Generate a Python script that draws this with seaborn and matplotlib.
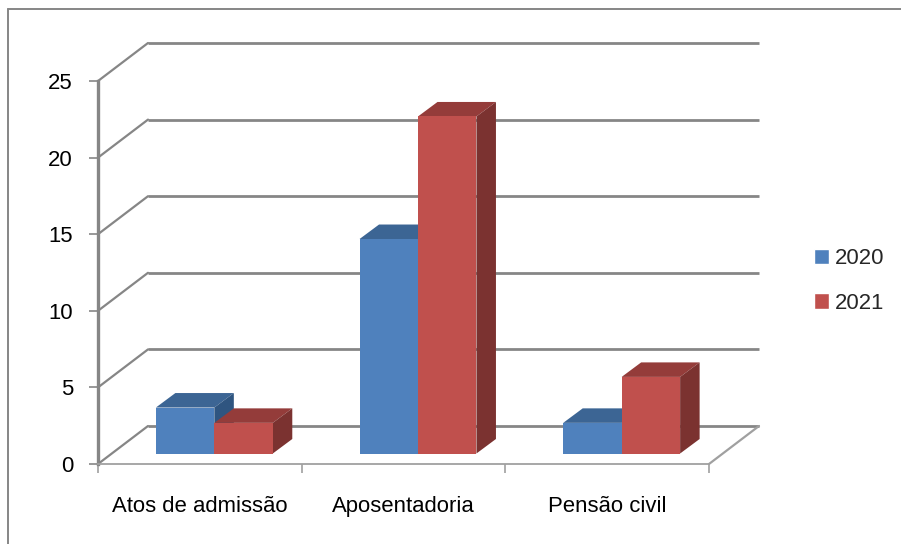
import matplotlib
matplotlib.use("Agg")
import matplotlib.pyplot as plt
from matplotlib.lines import Line2D
from matplotlib.patches import Polygon
from matplotlib.transforms import Affine2D
import pandas as pd
import seaborn as sns

categories = ["Atos de admissão", "Aposentadoria", "Pensão civil"]
values_2020 = [3, 14, 2]
values_2021 = [2, 22, 5]
y_ticks = [0, 5, 10, 15, 20, 25]

W, H, DPI = 901, 544, 100
BLUE, RED = "#4F81BD", "#C0504D"
BLUE_TOP, RED_TOP = "#3C6594", "#943C3A"
BLUE_SIDE, RED_SIDE = "#2F5580", "#7B3230"
GRID = "#868686"
AX_L, AX_R, AX_T, AX_B = 98, 709, 81, 464

sns.set_theme(style="white")
plt.rcParams["font.family"] = ["Liberation Sans", "DejaVu Sans"]
FS = 15.9

fig = plt.figure(figsize=(W / DPI, H / DPI), dpi=DPI, facecolor="white")
ax = fig.add_axes([AX_L / W, 1 - AX_B / H, (AX_R - AX_L) / W, (AX_B - AX_T) / H])

df = pd.DataFrame({
    "categoria": categories * 2,
    "ano": ["2020"] * len(categories) + ["2021"] * len(categories),
    "valor": values_2020 + values_2021,
})
sns.barplot(data=df, x="categoria", y="valor", hue="ano", palette=[BLUE, RED],
            width=0.574, gap=0, saturation=1, errorbar=None, ax=ax, zorder=5)
ax.set_xlim(-0.5, 2.5)
ax.set_ylim(0, 25)

px_x = (AX_R - AX_L) / 3
px_y = (AX_B - AX_T) / 25

# back wall and side wall (3-D look), offsets in pixels
BACK_DX, BACK_DY = 50, 38
for v in y_ticks:
    ax.plot([-0.5 + BACK_DX / px_x, 2.5 + BACK_DX / px_x],
            [v + BACK_DY / px_y] * 2, color=GRID, lw=2.0, clip_on=False, zorder=1,
            solid_capstyle="butt")
    ax.plot([-0.5, -0.5 + BACK_DX / px_x], [v, v + BACK_DY / px_y], color=GRID, lw=1.6,
            clip_on=False, zorder=1)
ax.plot([2.5, 2.5 + BACK_DX / px_x], [0, BACK_DY / px_y], color="#A0A0A0", lw=1.6,
        clip_on=False, zorder=1)

# bars stand in the middle of the floor: shift, then add side and top faces
SHIFT_X, SHIFT_Y = 14.5, 10.5
DEPTH_X, DEPTH_Y = 19.5, 14.5
shift = Affine2D().translate(SHIFT_X, SHIFT_Y)
faces = {0: (BLUE_TOP, BLUE_SIDE, 3), 1: (RED_TOP, RED_SIDE, 4)}
for idx, container in enumerate(ax.containers):
    top_c, side_c, z = faces[idx]
    for bar in container:
        bar.set_transform(ax.transData + shift)
        bar.set_clip_on(False)
        bar.set_linewidth(0)
        bar.set_zorder(z + 0.5)
        x0, x1 = bar.get_x(), bar.get_x() + bar.get_width()
        h = bar.get_height()
        dx, dy = DEPTH_X / px_x, DEPTH_Y / px_y
        top = Polygon([(x0, h), (x1, h), (x1 + dx, h + dy), (x0 + dx, h + dy)],
                      closed=True, fc=top_c, ec="none", zorder=z,
                      transform=ax.transData + shift, clip_on=False)
        side = Polygon([(x1, 0), (x1 + dx, dy), (x1 + dx, h + dy), (x1, h)],
                       closed=True, fc=side_c, ec="none", zorder=z,
                       transform=ax.transData + shift, clip_on=False)
        ax.add_patch(top)
        ax.add_patch(side)

# axes
for s in ("top", "right"):
    ax.spines[s].set_visible(False)
ax.spines["left"].set_color(GRID)
ax.spines["left"].set_linewidth(2.4)
ax.spines["bottom"].set_color("#A0A0A0")
ax.spines["bottom"].set_linewidth(1.3)
ax.set_xlabel("")
ax.set_ylabel("")
ax.set_yticks(y_ticks)
ax.set_xticks(range(len(categories)))
ax.set_xticklabels(categories)
ax.set_xticks([-0.5, 0.5, 1.5, 2.5], minor=True)
ax.tick_params(axis="y", left=True, length=6.5, width=1.2, color=GRID, pad=11.5,
               labelsize=FS, labelcolor="black")
ax.tick_params(axis="x", which="major", bottom=False, length=0, pad=23,
               labelsize=FS, labelcolor="black")
ax.tick_params(axis="x", which="minor", bottom=True, length=6.5, width=1.2, color="#A0A0A0")

# legend
handles, labels = ax.get_legend_handles_labels()
ax.legend(handles, labels, loc="center left", frameon=False,
          bbox_to_anchor=(814 / W, 1 - 281 / H), bbox_transform=fig.transFigure,
          fontsize=FS, handlelength=0.68, handleheight=0.68, handletextpad=0.27,
          labelspacing=1.07, borderpad=0, borderaxespad=0)

# outer chart frame (runs off the canvas to the right and bottom)
fig.add_artist(Line2D([8 / W, 8 / W], [0, 1 - 9 / H], color=GRID, lw=1.4))
fig.add_artist(Line2D([8 / W, 1], [1 - 9 / H, 1 - 9 / H], color=GRID, lw=1.4))

fig.savefig("out.png", dpi=DPI, facecolor="white")
